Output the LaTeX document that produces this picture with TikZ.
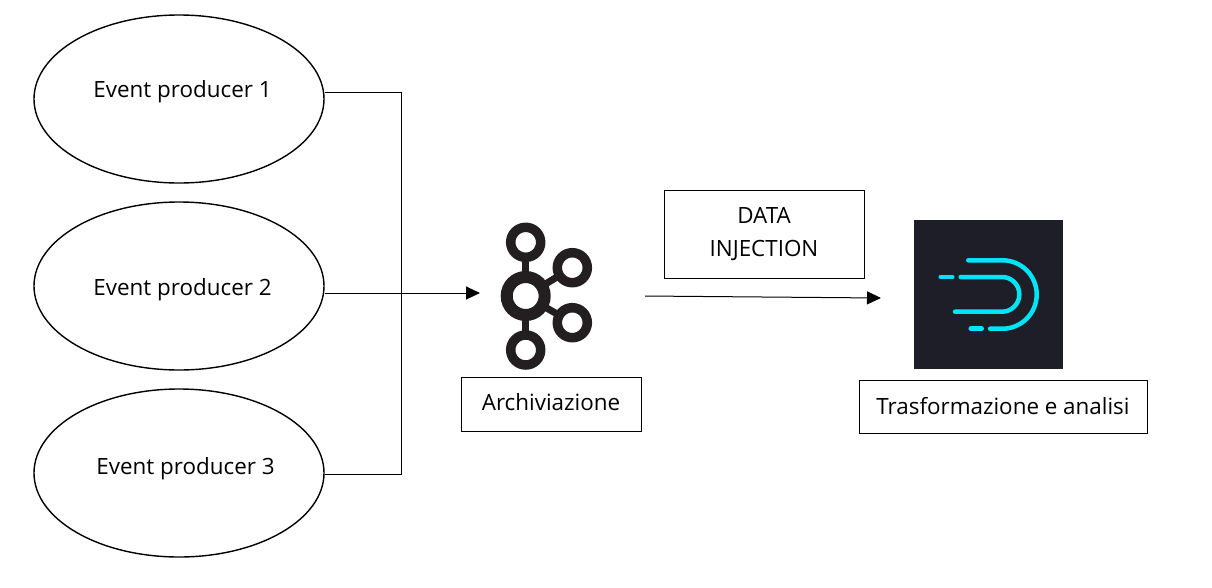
\documentclass[tikz,border=0pt]{standalone}
\usepackage{fontspec}
\usepackage{tikz}
\usetikzlibrary{arrows.meta,shapes.geometric}
\setmainfont{Open Sans}

\definecolor{logodark}{HTML}{1E1E28}
\definecolor{logocyan}{HTML}{00E5F5}
\definecolor{kafkablack}{HTML}{231F20}

\begin{document}
\begin{tikzpicture}[x=1pt, y=-1pt,
        prodellipse/.style={ellipse, draw, line width=1.4pt, minimum width=290pt, minimum height=168pt, inner sep=0pt},
        txtlabel/.style={font=\fontsize{22.4pt}{33pt}\selectfont, inner sep=0pt, align=center},
        boxnode/.style={rectangle, draw, line width=0.8pt, inner sep=0pt, font=\fontsize{22.4pt}{33pt}\selectfont, align=center},
        link/.style={line width=1pt},
        arrowlink/.style={line width=1pt, -{Triangle[length=14pt,width=13pt]}},
        kafkaring/.style={draw=kafkablack, line width=9.5pt},
        cyanline/.style={draw=logocyan, line width=4.5pt, line cap=round}]
        \useasboundingbox (0,0) rectangle (1212,587);

        % Producers on the left
        \node[prodellipse] (prod1) at (179,99) {};
        \node[prodellipse] (prod2) at (179,286) {};
        \node[prodellipse] (prod3) at (179,473) {};
        \node[txtlabel] (prodtxt1) at (182.5,92) {Event producer 1};
        \node[txtlabel] (prodtxt2) at (182.5,290) {Event producer 2};
        \node[txtlabel] (prodtxt3) at (185.5,469) {Event producer 3};

        % Text boxes
        \node[boxnode, minimum width=200pt, minimum height=88pt] (inject) at (764,234) {DATA\\INJECTION};
        \node[boxnode, minimum width=180pt, minimum height=54pt, text depth=4pt] (archive) at (551,404) {Archiviazione};
        \node[boxnode, minimum width=288pt, minimum height=53pt, text depth=2pt] (transform) at (1003,406.5) {Trasformazione e analisi};

        % Junction and free ends of the connectors
        \coordinate (junctop) at (401,92);
        \coordinate (junction) at (401,293);
        \coordinate (junclow) at (401,474);
        \coordinate (kafkain) at (480,293);
        \coordinate (injstart) at (645,296);
        \coordinate (injend) at (881,298);

        % Connectors
        \draw[link] (prod1.east |- junctop) -- (junctop) -- (junction);
        \draw[link] (prod3.east |- junclow) -- (junclow) -- (junction);
        \draw[link] (prod2.east |- junction) -- (junction);
        \draw[arrowlink] (junction) -- (kafkain);
        \draw[arrowlink] (injstart) -- (injend);

        % Archive logo
        \coordinate (khub) at (525.7,296);
        \coordinate (ktop) at (525.7,242.3);
        \coordinate (kbot) at (525.7,350);
        \coordinate (kup) at (572.3,267.7);
        \coordinate (klow) at (572.3,322.7);
        \foreach \kend in {ktop,kbot,kup,klow}
            \draw[draw=kafkablack, line width=7pt] (khub) -- (\kend);
        \foreach \kend in {ktop,kbot,kup,klow}
            \draw[kafkaring, fill=white] (\kend) circle (15);
        \draw[kafkaring, line width=12pt, fill=white] (khub) circle (19);

        % Analysis logo
        \node[rectangle, fill=logodark, minimum size=149pt, inner sep=0pt] (dlogo) at (988.5,294.5) {};
        \draw[cyanline] (968.3,260.3) -- (1002.5,260.3) arc[start angle=-90, end angle=90, radius=34.2] -- (990,328.7);
        \draw[cyanline] (960.7,277) -- (1002,277) arc[start angle=-90, end angle=90, radius=17.35] -- (955,311.7);
        \draw[cyanline] (940.7,277) -- (952.3,277);
        \draw[cyanline] (970.7,328.7) -- (981.7,328.7);
\end{tikzpicture}
\end{document}
